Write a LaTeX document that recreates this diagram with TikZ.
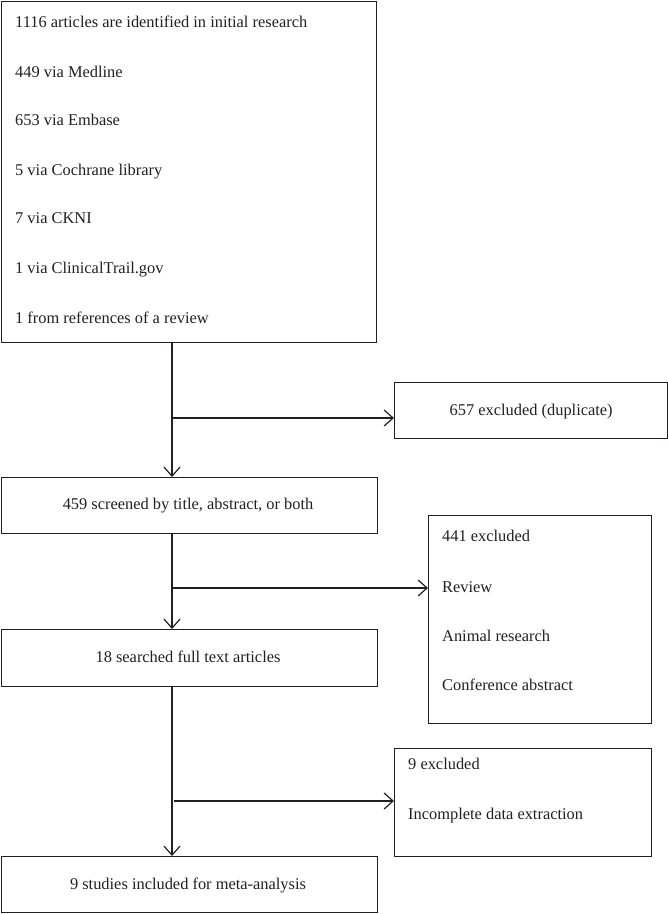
\documentclass[tikz,border=0pt]{standalone}
\usepackage{fontspec}
\setmainfont{Liberation Serif}
\usetikzlibrary{arrows.meta}
\definecolor{ink}{HTML}{231F20}
\begin{document}
\begin{tikzpicture}[x=1pt,y=-1pt,
  box/.style={draw=ink,line width=1.3pt,rectangle,inner sep=0pt,anchor=north west},
  txt/.style={text=ink,font=\fontsize{16.4}{19}\selectfont,inner sep=0pt,text height=14pt,text depth=3pt},
  flow/.style={draw=ink,line width=1.2pt,-{Straight Barb[length=9pt,width=16pt,line width=1.2pt]}},
  plain/.style={draw=ink,line width=1.2pt}]
\useasboundingbox (0,0) rectangle (668,914);
% boxes
\node[box,minimum width=375pt,minimum height=341pt] (top) at (1,1) {};
\node[box,minimum width=273pt,minimum height=56pt] (dup) at (394,382) {};
\node[box,minimum width=376pt,minimum height=56pt] (scr) at (1,477) {};
\node[box,minimum width=223pt,minimum height=208pt] (ex2) at (428,515) {};
\node[box,minimum width=376pt,minimum height=57pt] (full) at (1,629) {};
\node[box,minimum width=257pt,minimum height=108pt] (ex3) at (394,748) {};
\node[box,minimum width=376pt,minimum height=56pt] (inc) at (1,856) {};
% texts
\node[txt,anchor=west] (t1) at (15,22) {1116 articles are identified in initial research};
\node[txt,anchor=west] (t2) at (15,72) {449 via Medline};
\node[txt,anchor=west] (t3) at (15,120) {653 via Embase};
\node[txt,anchor=west] (t4) at (15,170) {5 via Cochrane library};
\node[txt,anchor=west] (t5) at (15,218) {7 via CKNI};
\node[txt,anchor=west] (t6) at (15,268) {1 via ClinicalTrail.gov};
\node[txt,anchor=west] (t7) at (15,318) {1 from references of a review};
\node[txt] (tdup) at ([yshift=1pt]dup.center) {657 excluded (duplicate)};
\node[txt] (tscr) at (188,504) {459 screened by title, abstract, or both};
\node[txt,anchor=west] (e1) at (442,536) {441 excluded};
\node[txt,anchor=west] (e2) at (442,587) {Review};
\node[txt,anchor=west] (e3) at (442,636) {Animal research};
\node[txt,anchor=west] (e4) at (442,685) {Conference abstract};
\node[txt] (tfull) at (188,657) {18 searched full text articles};
\node[txt,anchor=west] (f1) at (408,764) {9 excluded};
\node[txt,anchor=west] (f2) at (408,814) {Incomplete data extraction};
\node[txt] (tinc) at (188,884) {9 studies included for meta-analysis};
% junctions
\coordinate (j1) at (172,418);
\coordinate (j2) at (172,588);
\coordinate (j3) at (172,801);
\coordinate (j3s) at (174,801);
% connectors
\draw[flow] (top.south -| j1) -- (scr.north -| j1);
\draw[flow] (j1) -- (dup.west |- j1);
\draw[flow] (scr.south -| j2) -- (full.north -| j2);
\draw[flow] (j2) -- (ex2.west |- j2);
\draw[flow] (full.south -| j3) -- (inc.north -| j3);
\draw[flow] (j3s) -- (ex3.west |- j3s);
\end{tikzpicture}
\end{document}
